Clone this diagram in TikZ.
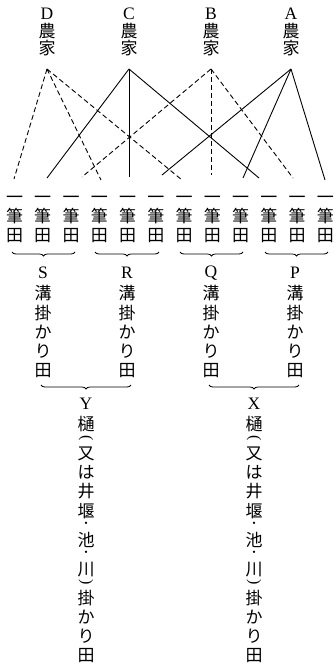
\documentclass[tikz,border=0pt]{standalone}
\usepackage{fontspec}
\setmainfont{Liberation Serif}
\newfontfamily\cjk{Noto Sans CJK JP}
\usetikzlibrary{decorations.pathreplacing}
\begin{document}
\begin{tikzpicture}[x=1pt,y=-1pt,
  cj/.style={font=\cjk\fontsize{17}{17}\selectfont, inner sep=0pt, text height=14.84pt, text depth=1.16pt},
  cjdot/.style={font=\cjk\fontsize{11}{11}\selectfont, inner sep=0pt},
  lat/.style={font=\fontsize{17.5}{17.5}\selectfont, inner sep=0pt},
  rot/.style={font=\fontsize{16}{16}\selectfont, inner sep=0pt, rotate=-90},
  link/.style={line width=0.9pt},
  dlink/.style={link, dash pattern=on 5pt off 3pt},
  brc/.style={decorate, decoration={brace, mirror, amplitude=4pt, aspect=0.5}, line width=0.8pt}]
\useasboundingbox (0,0) rectangle (334,667);

% farmers
\foreach \n/\x in {D/47, C/129, B/211, A/291} {
  \node[lat] (f\n) at (\x,14) {\n};
  \node[cj] (f\n a) at (\x,31) {農};
  \node[cj] (f\n b) at (\x,48) {家};
  \coordinate (ap\n) at (\x,69);
}

% line ends
\coordinate (eD1) at (14,179);
\coordinate (eD2) at (101,180);
\coordinate (eD3) at (182,180);
\coordinate (eC1) at (47,178);
\coordinate (eC2) at (129,177);
\coordinate (eC3) at (259,178);
\coordinate (eB1) at (82,177);
\coordinate (eB2) at (211,175);
\coordinate (eB3) at (293,178);
\coordinate (eA1) at (162,175);
\coordinate (eA2) at (243,178);
\coordinate (eA3) at (325,180);

\foreach \e in {1,2,3} {
  \draw[dlink] (apD) -- (eD\e);
  \draw[link] (apC) -- (eC\e);
  \draw[dlink] (apB) -- (eB\e);
  \draw[link] (apA) -- (eA\e);
}

% fields
\foreach \i in {1,...,12} {
  \pgfmathsetmacro\cx{14.5+28.25*(\i-1)}
  \node[cj] (ka\i) at (\cx,197) {一};
  \node[cj] (kb\i) at (\cx,215.5) {筆};
  \node[cj] (kc\i) at (\cx,235) {田};
}

% first level braces
\coordinate (b1l) at (12,252);  \coordinate (b1r) at (75,252);
\coordinate (b2l) at (95,252);  \coordinate (b2r) at (159,252);
\coordinate (b3l) at (180,252); \coordinate (b3r) at (243,252);
\coordinate (b4l) at (265,252); \coordinate (b4r) at (328,252);
\foreach \b in {1,2,3,4} { \draw[brc] (b\b l) -- (b\b r); }

\foreach \n/\x in {S/43, R/127, Q/211, P/295} {
  \node[lat] (m\n) at (\x,273) {\n};
  \foreach \c/\y [count=\j] in {溝/293, 掛/312.5, か/331.5, り/350.5, 田/369.5} {
    \node[cj] (m\n\j) at (\x,\y) {\c};
  }
}

% second level braces
\coordinate (yl) at (41,385);  \coordinate (yr) at (131,385);
\coordinate (xl) at (209,385); \coordinate (xr) at (299,385);
\draw[brc] (yl) -- (yr);
\draw[brc] (xl) -- (xr);

\foreach \n/\x in {Y/86, X/254} {
  \node[lat] (g\n) at (\x,404) {\n};
  \node[rot] (g\n po) at (\x,438.5) {(};
  \node[rot] (g\n pc) at (\x,582) {)};
  \node[cjdot] (g\n d1) at (\x,524.7) {・};
  \node[cjdot] (g\n d2) at (\x,553.7) {・};
  \foreach \c/\y [count=\j] in {樋/423.3, 又/452.3, は/471.6, 井/490.9, 堰/510.2, 池/539.2, 川/568.2, 掛/597.2, か/616.5, り/635.8, 田/655.1} {
    \node[cj] (g\n\j) at (\x,\y) {\c};
  }
}
\end{tikzpicture}
\end{document}
